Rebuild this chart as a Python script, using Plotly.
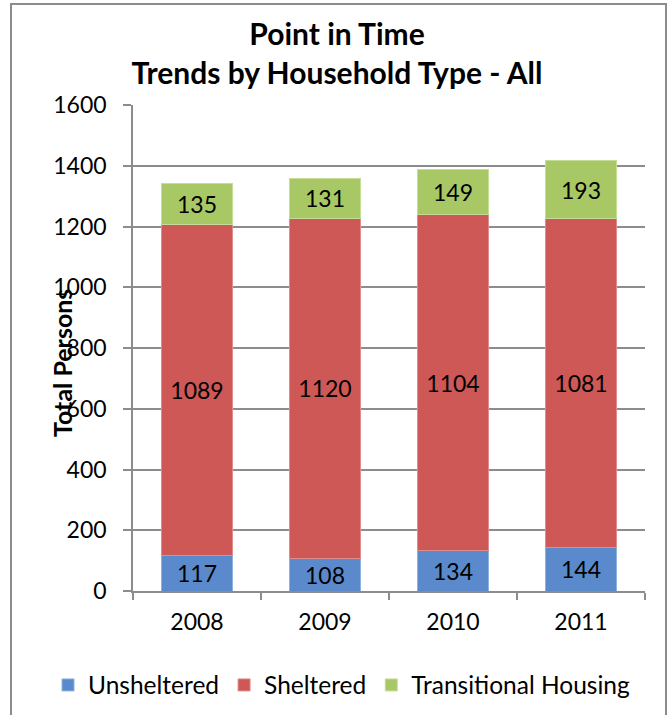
import plotly.graph_objects as go

years = ["2008", "2009", "2010", "2011"]
unsheltered = [117, 108, 134, 144]
sheltered = [1089, 1120, 1104, 1081]
transitional = [135, 131, 149, 193]
y_ticks = [0, 200, 400, 600, 800, 1000, 1200, 1400, 1600]

series = [
    ("Unsheltered", unsheltered, "#5A8ACB", "#8FB2DE"),
    ("Sheltered", sheltered, "#CD5856", "#E08C8A"),
    ("Transitional Housing", transitional, "#A8C866", "#C6DC98"),
]

FONT = "Lato"
L, R, T, B = 133, 645, 105, 591
PW, PH = R - L, B - T

fig = go.Figure()
for name, vals, col, edge in series:
    fig.add_trace(go.Bar(
        x=years, y=vals, name=name,
        marker=dict(color=col, line=dict(color=edge, width=1)),
        text=[str(v) for v in vals],
        textposition="inside", insidetextanchor="middle", textangle=0,
        constraintext="none",
        textfont=dict(family=FONT, size=23, color="black"),
        width=0.547,
    ))

fig.update_layout(
    width=670, height=715,
    barmode="stack",
    paper_bgcolor="white", plot_bgcolor="white",
    margin=dict(l=L, r=670 - R, t=T, b=715 - B, autoexpand=False),
    font=dict(family=FONT, size=23, color="black"),
    title=dict(
        text="<b>Point in Time</b><br><b>Trends by Household Type - All</b>",
        x=337 / 670, xanchor="center", y=1 - 45 / 715, yanchor="middle",
        font=dict(family=FONT, size=30, color="black"),
    ),
    showlegend=True,
    legend=dict(
        orientation="h", x=(48 - L) / PW, xanchor="left",
        y=(B - 685) / PH, yanchor="middle",
        font=dict(family=FONT, size=24.5, color="black"),
        traceorder="normal", itemwidth=30, bgcolor="rgba(0,0,0,0)",
    ),
    xaxis=dict(
        type="category", showgrid=False, showline=True, linecolor="#8C8C8C", linewidth=1.5,
        ticks="outside", tickson="boundaries", ticklen=7, tickcolor="#8C8C8C", tickwidth=1.5,
        ticklabelstandoff=10, tickfont=dict(family=FONT, size=23, color="black"),
    ),
    yaxis=dict(
        range=[0, 1600], tickvals=y_ticks, showgrid=True, gridcolor="#8C8C8C", gridwidth=1.5,
        showline=True, linecolor="#8C8C8C", linewidth=1.5, zeroline=False,
        ticks="outside", ticklen=8, tickcolor="#8C8C8C", tickwidth=1.5,
        ticklabelstandoff=12, tickfont=dict(family=FONT, size=23, color="black"),
    ),
)

fig.add_annotation(
    text="<b>Total Persons</b>", textangle=-90,
    xref="paper", yref="paper", x=(62 - L) / PW, y=(B - 363) / PH,
    xanchor="center", yanchor="middle", showarrow=False,
    font=dict(family=FONT, size=25, color="black"),
)

fig.add_shape(
    type="rect", xref="paper", yref="paper",
    x0=(11 - L) / PW, x1=(666 - L) / PW,
    y0=(B - 740) / PH, y1=(B - 4) / PH,
    line=dict(color="#8C8C8C", width=2), fillcolor="rgba(0,0,0,0)", layer="below",
)

fig.write_html(
    "out.html",
    config={"displayModeBar": False},
    post_script="document.body.style.margin='0';document.body.style.overflow='hidden';",
)
